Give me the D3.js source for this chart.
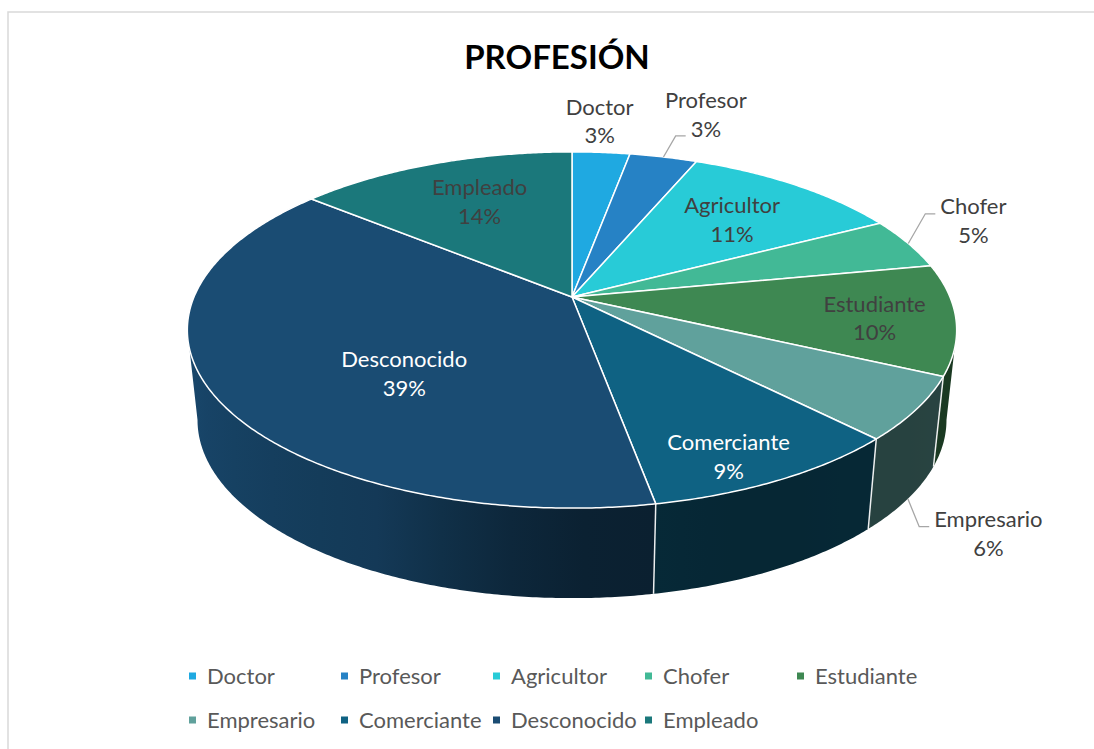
<!DOCTYPE html>
<html><head><meta charset="utf-8">
<script src="https://cdn.jsdelivr.net/npm/d3@7"></script>
<style>body{margin:0;background:#fff} svg{display:block}</style>
</head><body><svg id="c" width="1094" height="749"></svg>
<script>
// ---- data ----
const title = "PROFESIÓN";
const categories = ["Doctor","Profesor","Agricultor","Chofer","Estudiante","Empresario","Comerciante","Desconocido","Empleado"];
const values = [2.9, 3.4, 11.0, 4.7, 10.0, 5.7, 9.4, 38.9, 14.0];
const colors = ["#1FA9E1","#2682C5","#28CBD7","#42B996","#3E8852","#60A19C","#0F6283","#1A4C73","#1B787B"];

// ---- label layout (radial fraction + nudges) ----
const labelLayout = {
  Doctor:      {r:1.15, dx:-5, dy:-13, fill:"#404040"},
  Profesor:    {r:1.15, dx:31, dy:-25, fill:"#404040", leader:1},
  Agricultor:  {r:0.686, dy:2.5, fill:"#404040"},
  Chofer:      {r:1.15, dx:18, dy:-15, fill:"#404040", leader:0},
  Estudiante:  {r:0.792, dy:4, fill:"#404040"},
  Empresario:  {r:1.15, dx:23, dy:16, level:1, fill:"#404040", leader:0},
  Comerciante: {r:0.785, dy:22, fill:"#ffffff"},
  Desconocido: {r:0.491, dy:32, fill:"#ffffff"},
  Empleado:    {r:0.635, dy:-6, fill:"#404040"}
};

const FONT = "Lato, 'Open Sans', sans-serif";
const svg = d3.select("#c");

// chart frame
svg.append("rect").attr("x",8).attr("y",12).attr("width",1100).attr("height",760)
  .attr("fill","#fff").attr("stroke","#d9d9d9").attr("stroke-width",1.5);

// title
svg.append("text").attr("x",557).attr("y",57).attr("dy","0.35em")
  .attr("text-anchor","middle").attr("font-family",FONT).attr("font-weight","bold")
  .attr("font-size",33).attr("fill","#000").text(title);

// ---- 3D projection ----
const G = {cx:572, cy:297, s0:378, s1:368, k:172, p:0.1853, depth:90};
function proj(a, r, level){
  const c = Math.cos(a), s = Math.sin(a);
  const w = 1/(1 + G.p*r*c);
  const sx = G.s0 + (G.s1-G.s0)*level;
  return [G.cx + sx*r*s*w, G.cy + G.depth*level - G.k*r*c*w];
}
function arcPts(a0,a1,r,level){
  const n = Math.max(2, Math.ceil(Math.abs(a1-a0)/(Math.PI/360)));
  return d3.range(n+1).map(i => proj(a0+(a1-a0)*i/n, r, level));
}
const line = d3.line();

const data = categories.map((c,i)=>({name:c, value:values[i], color:colors[i]}));
const arcs = d3.pie().sort(null).value(d=>d.value)(data);
const total = d3.sum(values);

const aR = Math.PI/2 + Math.asin(G.p), aL = 3*Math.PI/2 - Math.asin(G.p);
const rad = Math.PI/180;
const shadeK = d3.scaleLinear().domain([100,160,180,205,260].map(d=>d*rad))
  .range([2.4,2.6,2.3,0.8,0.1]).clamp(true);

const defs = svg.append("defs");
const gSide = svg.append("g"), gTop = svg.append("g"), gLab = svg.append("g");

// side walls
arcs.forEach((d,i)=>{
  const t0 = Math.max(d.startAngle,aR), t1 = Math.min(d.endAngle,aL);
  if (t1 <= t0) return;
  const x0 = proj(t0,1,0)[0], x1 = proj(t1,1,0)[0];
  const gid = "sg"+i;
  const grad = defs.append("linearGradient").attr("id",gid).attr("gradientUnits","userSpaceOnUse")
    .attr("x1",x0).attr("x2",x1).attr("y1",0).attr("y2",0);
  const ns = 10;
  d3.range(ns+1).forEach(j=>{
    const a = t0+(t1-t0)*j/ns;
    const x = proj(a,1,0)[0];
    grad.append("stop").attr("offset",(x-x0)/(x1-x0))
      .attr("stop-color", d3.color(d.data.color).darker(shadeK(a)).formatHex());
  });
  const pts = arcPts(t0,t1,1,0).concat(arcPts(t1,t0,1,1));
  gSide.append("path").attr("d", line(pts)+"Z").attr("fill",`url(#${gid})`);
});
// boundary lines on side walls
arcs.forEach(d=>{
  const a = d.startAngle;
  if (a > aR && a < aL){
    gSide.append("path").attr("d", line([proj(a,1,0),proj(a,1,1)]))
      .attr("stroke","#ffffff").attr("stroke-width",1.5).attr("fill","none").attr("opacity",0.9);
  }
});

// top faces
arcs.forEach(d=>{
  const pts = [proj(0,0,0)].concat(arcPts(d.startAngle,d.endAngle,1,0));
  gTop.append("path").attr("d", line(pts)+"Z").attr("fill",d.data.color)
    .attr("stroke","#ffffff").attr("stroke-width",1.5).attr("stroke-linejoin","round");
});

// data labels
const LH = 28.5;
arcs.forEach(d=>{
  const L = labelLayout[d.data.name];
  const mid = (d.startAngle+d.endAngle)/2;
  const lev = L.level || 0;
  const p = proj(mid, L.r, lev);
  const cx = p[0] + (L.dx||0), cy = p[1] + (L.dy||0);
  const lines = [d.data.name, Math.round(d.data.value/total*100)+"%"];
  const texts = lines.map((t,j)=> gLab.append("text")
    .attr("x",cx).attr("y",cy + (j-0.5)*LH).attr("dy","0.35em")
    .attr("text-anchor","middle").attr("font-family",FONT).attr("font-size",22)
    .attr("fill",L.fill).text(t));
  if (L.leader !== undefined){
    const t = texts[L.leader];
    const w = t.node().getComputedTextLength();
    const ex = cx - w/2 - 5, ey = cy + (L.leader-0.5)*LH + 7;
    const s = proj(mid, 1, lev);
    gLab.append("path").attr("d", line([s,[ex-10,ey],[ex,ey]]))
      .attr("fill","none").attr("stroke","#a6a6a6").attr("stroke-width",1.3);
  }
});

// legend
const colW = 152, legX = 189, rowY = [676, 720], perRow = 5;
const gLeg = svg.append("g");
data.forEach((d,i)=>{
  const col = i % perRow, row = Math.floor(i/perRow);
  const x = legX + col*colW, y = rowY[row];
  gLeg.append("rect").attr("x",x).attr("y",y-3.5).attr("width",7).attr("height",7).attr("fill",d.color);
  gLeg.append("text").attr("x",x+18).attr("y",y).attr("dy","0.35em")
    .attr("font-family",FONT).attr("font-size",22).attr("fill","#595959").text(d.name);
});
</script>
</body></html>
